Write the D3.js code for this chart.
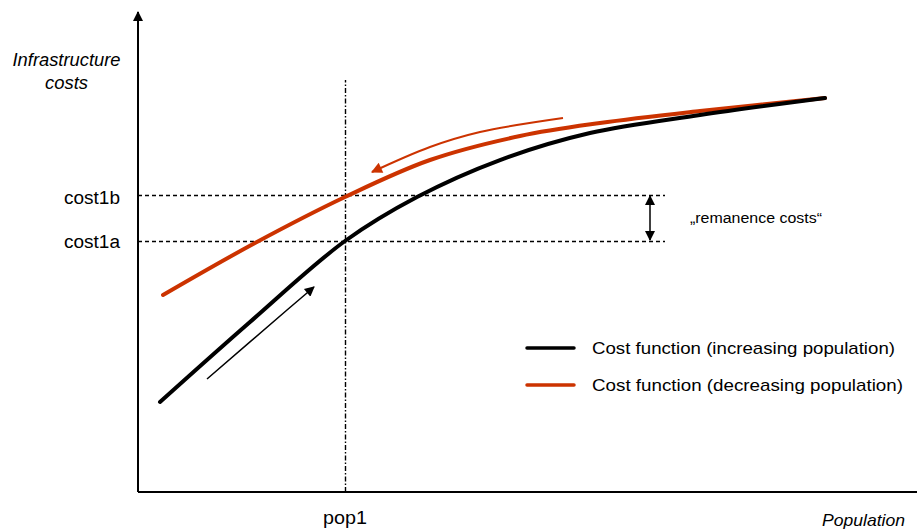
<!DOCTYPE html>
<html><head><meta charset="utf-8">
<script src="https://cdn.jsdelivr.net/npm/d3@7"></script>
<style>body{margin:0;background:#fff}svg{display:block;font-family:"Liberation Sans",Arial,sans-serif}</style>
</head><body><svg id="c" width="917" height="531"></svg>
<script>
// Data (population / cost units)
const incPop  = [22, 112, 207, 279, 362, 452, 562, 687];
const incCost = [90, 170, 251, 295, 332, 359, 377, 394];
const decPop  = [25, 117, 207, 292, 382, 462, 562, 687];
const decCost = [197, 249, 295, 332, 356, 369, 381, 394];
const pop1 = 207, cost1a = 251, cost1b = 297;
const incArrowPop = [69, 149, 176];
const incArrowCost = [113, 182, 205];
const decArrowPop = [425, 342, 292, 234];
const decArrowCost = [374, 360, 345, 320];
const seriesNames = ["Cost function (increasing population)", "Cost function (decreasing population)"];
const colors = ["#000000", "#cc3300"];

const svg = d3.select("#c");
const x = d3.scaleLinear().domain([0, 779]).range([138, 917]);
const y = d3.scaleLinear().domain([0, 480]).range([492, 12]);

const defs = svg.append("defs");
function marker(id, color, w, h) {
  defs.append("marker").attr("id", id).attr("viewBox", "0 0 10 10").attr("refX", 9).attr("refY", 5)
    .attr("markerWidth", w).attr("markerHeight", h).attr("markerUnits", "userSpaceOnUse").attr("orient", "auto-start-reverse")
    .append("path").attr("d", "M0,0L10,5L0,10z").attr("fill", color);
}
marker("ab", "#000", 12, 10);
marker("ar", "#cc3300", 14, 11);
marker("ay", "#000", 10, 12);

// axes
svg.append("line").attr("x1", x(0)).attr("x2", x(0)).attr("y1", y(0)).attr("y2", y(480))
  .attr("stroke", "#000").attr("stroke-width", 2).attr("marker-end", "url(#ay)");
svg.append("line").attr("x1", x(0)).attr("x2", x(779)).attr("y1", y(0)).attr("y2", y(0))
  .attr("stroke", "#000").attr("stroke-width", 2);

// reference lines
[cost1a, cost1b].forEach(c => {
  svg.append("line").attr("x1", x(0)).attr("x2", x(527)).attr("y1", y(c) + 0.5).attr("y2", y(c) + 0.5)
    .attr("stroke", "#000").attr("stroke-width", 1.4).attr("stroke-dasharray", "4,3");
});
svg.append("line").attr("x1", x(pop1) + 0.5).attr("x2", x(pop1) + 0.5).attr("y1", y(0)).attr("y2", y(412))
  .attr("stroke", "#000").attr("stroke-width", 1.4).attr("stroke-dasharray", "5,2,1.5,2");

// double arrow
svg.append("line").attr("x1", x(512)).attr("x2", x(512)).attr("y1", y(cost1b) + 1).attr("y2", y(cost1a) - 1)
  .attr("stroke", "#000").attr("stroke-width", 1.5)
  .attr("marker-start", "url(#ab)").attr("marker-end", "url(#ab)");

const line = d3.line().x(d => x(d[0])).y(d => y(d[1])).curve(d3.curveCatmullRom.alpha(0.5));
const lineC = d3.line().x(d => x(d[0])).y(d => y(d[1])).curve(d3.curveCatmullRom);

svg.append("path").attr("d", line(decPop.map((p, i) => [p, decCost[i]])))
  .attr("fill", "none").attr("stroke", colors[1]).attr("stroke-width", 4).attr("stroke-linecap", "round");
svg.append("path").attr("d", line(incPop.map((p, i) => [p, incCost[i]])))
  .attr("fill", "none").attr("stroke", colors[0]).attr("stroke-width", 4).attr("stroke-linecap", "round");

// movement arrows
svg.append("path").attr("d", lineC(incArrowPop.map((p, i) => [p, incArrowCost[i]])))
  .attr("fill", "none").attr("stroke", "#000").attr("stroke-width", 1.5).attr("marker-end", "url(#ab)");
svg.append("path").attr("d", lineC(decArrowPop.map((p, i) => [p, decArrowCost[i]])))
  .attr("fill", "none").attr("stroke", "#cc3300").attr("stroke-width", 2).attr("marker-end", "url(#ar)");

// labels
const t = (txt, px, py, opts = {}) => {
  const el = svg.append("text").attr("x", px).attr("y", py)
    .attr("font-size", opts.size || 14).attr("text-anchor", opts.anchor || "start")
    .attr("font-style", opts.italic ? "italic" : "normal").attr("fill", "#000").text(txt);
  if (opts.len) el.attr("textLength", opts.len).attr("lengthAdjust", "spacingAndGlyphs");
  return el;
};
t("cost1b", 120, 204, {anchor: "end", size: 18, len: 56});
t("cost1a", 120, 248, {anchor: "end", size: 18, len: 56});
t("pop1", x(pop1), 524, {anchor: "middle", size: 18, len: 44});
t("Population", 905, 526, {anchor: "end", italic: true, size: 16.5, len: 83});
t("Infrastructure", 66.5, 66, {anchor: "middle", italic: true, size: 17.5, len: 108});
t("costs", 66.5, 89, {anchor: "middle", italic: true, size: 17.5, len: 43});
t("\u201Eremanence costs\u201C", 690, 223, {size: 14, len: 132});

// legend
const legLens = [303, 311];
seriesNames.forEach((n, i) => {
  const ly = 348 + i * 37;
  svg.append("line").attr("x1", 527).attr("x2", 574).attr("y1", ly).attr("y2", ly)
    .attr("stroke", colors[i]).attr("stroke-width", 3.5).attr("stroke-linecap", "round");
  t(n, 592, ly + 6, {size: 17, len: legLens[i]});
});
</script></body></html>
